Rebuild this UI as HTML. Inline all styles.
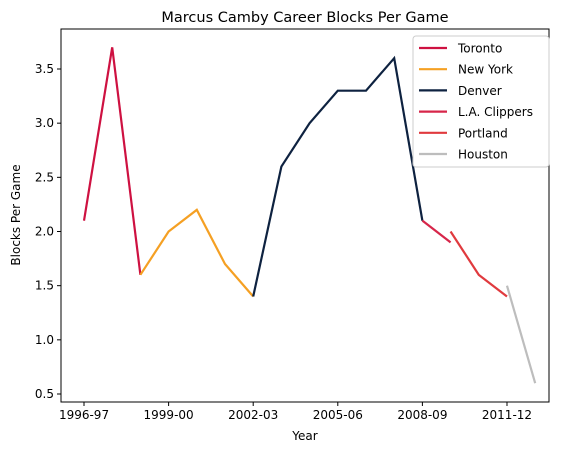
<!DOCTYPE html>
<html><head><meta charset="utf-8"><style>
body{margin:0;background:#fff;}
svg{display:block;font-family:"DejaVu Sans","Liberation Sans",sans-serif;}
</style></head><body>
<svg id="chart" width="570" height="453" viewBox="0 0 570 453" xmlns="http://www.w3.org/2000/svg">
<text x="305" y="22" text-anchor="middle" font-size="14.5">Marcus Camby Career Blocks Per Game</text>
<g id="plot"></g>
<rect x="61" y="29" width="488" height="373" fill="none" stroke="#000" stroke-width="1"/>
<text x="305" y="440" text-anchor="middle" font-size="12">Year</text>
<text transform="translate(20,215) rotate(-90)" text-anchor="middle" font-size="12">Blocks Per Game</text>
<g id="legend"></g>
</svg>
<script>
const teams=["Toronto","New York","Denver","L.A. Clippers","Portland","Houston"];
const colors=["#CE1141","#F5A023","#0E2240","#D7264A","#E03A3E","#BDBDBD"];
const seasonIdx=[[0,1,2],[2,3,4,5,6],[6,7,8,9,10,11,12],[12,13],[13,14,15],[15,16]];
const blocks=[[2.1,3.7,1.6],[1.6,2.0,2.2,1.7,1.4],[1.4,2.6,3.0,3.3,3.3,3.6,2.1],[2.1,1.9],[2.0,1.6,1.4],[1.5,0.6]];
const xTickIdx=[0,3,6,9,12,15];
const xTickLabels=["1996-97","1999-00","2002-03","2005-06","2008-09","2011-12"];
const yTicks=[0.5,1.0,1.5,2.0,2.5,3.0,3.5];
const NS="http://www.w3.org/2000/svg";
const L=61,R=549,T=29,B=402;
const xmin=-0.816,xmax=16.49;
const ymin=0.5-(B-394)/108.33,ymax=3.5+(69-T)/108.33;
const xs=v=>L+(v-xmin)/(xmax-xmin)*(R-L);
const ys=v=>B-(v-ymin)/(ymax-ymin)*(B-T);
const svg=document.getElementById('chart');
const plot=document.getElementById('plot');
function mk(tag,attrs,parent){const e=document.createElementNS(NS,tag);for(const k in attrs)e.setAttribute(k,attrs[k]);(parent||svg).appendChild(e);return e;}
xTickIdx.forEach((v,i)=>{
  const t=mk('line',{x1:xs(v),x2:xs(v),y1:B,y2:B+4,stroke:'#000'});
  
  
  const tx=mk('text',{x:xs(v),y:B+17,'text-anchor':'middle','font-size':'12'});
  tx.textContent=xTickLabels[i];
  
  
});
yTicks.forEach(v=>{
  const t=mk('line',{x1:L-4,x2:L,y1:ys(v),y2:ys(v),stroke:'#000'});
  
  
  const tx=mk('text',{x:L-7,y:ys(v)+4,'text-anchor':'end','font-size':'12'});
  tx.textContent=v.toFixed(1);
  
  
});
teams.forEach((tm,i)=>{
  const pts=seasonIdx[i].map((s,j)=>xs(s)+','+ys(blocks[i][j])).join(' ');
  const p=mk('polyline',{points:pts,fill:'none',stroke:colors[i],'stroke-width':2.2},plot);
  
  
});
const lg=document.getElementById('legend');
const box=mk('rect',{x:413,y:36,width:136,height:131,rx:3,fill:'#fff','fill-opacity':0.8,stroke:'#ccc'},lg);


teams.forEach((tm,i)=>{
  const y=48+i*21.2;
  const g=mk('g',{},lg);
  
  
  mk('line',{x1:419,x2:447,y1:y,y2:y,stroke:colors[i],'stroke-width':2.2},g);
  const t=mk('text',{x:458,y:y+4.5,'font-size':'12'},g);
  t.textContent=tm;
});
</script>
</body></html>
